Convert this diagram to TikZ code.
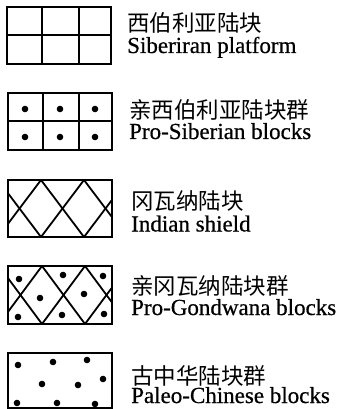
\documentclass[tikz,border=0pt]{standalone}
\usepackage{fontspec}
\setmainfont{Liberation Serif}
\newfontface\enb{Liberation Serif}[FakeBold=0.6]
\newfontfamily\cjk{Noto Sans CJK SC}
\begin{document}
\begin{tikzpicture}[x=1pt,y=-1pt,
  frame/.style={draw=black,line width=2.2pt},
  grid/.style={draw=black,line width=1.8pt},
  dot/.style={fill=black},
  zh/.style={anchor=base west,inner sep=0pt,font=\cjk\fontsize{22.5}{24}\selectfont},
  en/.style={anchor=base west,inner sep=0pt,font=\enb\fontsize{23}{25}\selectfont}]
\useasboundingbox[fill=white] (0,0) rectangle (339,409);
% Box 1: Siberian platform
\draw[grid] (42,7) -- (42,64) (79,7) -- (79,64) (7,35) -- (111,35);
\node[frame,minimum width=104pt,minimum height=57pt,inner sep=0pt] (b1) at (59,35.5) {};
\node[zh] (z1) at (127,32) {西伯利亚陆块};
\node[en] (e1) at (127,53) {Siberiran platform};
% Box 2: Pro-Siberian blocks
\draw[grid] (43,93) -- (43,150) (79,93) -- (79,150) (8,121) -- (112,121);
\node[frame,minimum width=104pt,minimum height=57pt,inner sep=0pt] (b2) at (60,121.5) {};
\foreach \x in {25,60,95}{\foreach \y in {109,137}{\fill[dot] (\x,\y) circle (3.3);}}
\node[zh] (z2) at (129,118) {亲西伯利亚陆块群};
\node[en] (e2) at (129,139) {Pro-Siberian blocks};
% Box 3: Indian shield
\begin{scope}
\clip (8,180) rectangle (112,237);
\foreach \a in {-2,41,84,127}{
  \draw[grid] (\a,180) -- ++(86,114);
  \draw[grid] (\a,180) -- ++(-86,114);
}
\draw[grid] (-45,180) -- ++(86,114);
\draw[grid] (170,180) -- ++(-86,114);
\end{scope}
\node[frame,minimum width=104pt,minimum height=57pt,inner sep=0pt] (b3) at (60,208.5) {};
\node[zh] (z3) at (131,209) {冈瓦纳陆块};
\node[en] (e3) at (131,231.5) {Indian shield};
% Box 4: Pro-Gondwana blocks
\begin{scope}
\clip (8,266) rectangle (112,324);
\foreach \a in {-1,42,85,128}{
  \draw[grid] (\a,266) -- ++(86,116);
  \draw[grid] (\a,266) -- ++(-86,116);
}
\draw[grid] (-44,266) -- ++(86,116);
\draw[grid] (171,266) -- ++(-86,116);
\end{scope}
\node[frame,minimum width=104pt,minimum height=58pt,inner sep=0pt] (b4) at (60,295) {};
\foreach \p in {(19,279),(63,275),(103,276),(40,298),(84,294),(18,317),(62,315),(104,314)}{\fill[dot] \p circle (3.3);}
\node[zh] (z4) at (131,294) {亲冈瓦纳陆块群};
\node[en] (e4) at (131,315) {Pro-Gondwana blocks};
% Box 5: Paleo-Chinese blocks
\node[frame,minimum width=104pt,minimum height=55pt,inner sep=0pt] (b5) at (60,380.5) {};
\foreach \p in {(18,365),(53,362),(87,360),(42,384),(78,385),(103,379),(17,403),(57,403),(95,404)}{\fill[dot] \p circle (3.3);}
\node[zh] (z5) at (131,384) {古中华陆块群};
\node[en] (e5) at (131,403) {Paleo-Chinese blocks};
\end{tikzpicture}
\end{document}
